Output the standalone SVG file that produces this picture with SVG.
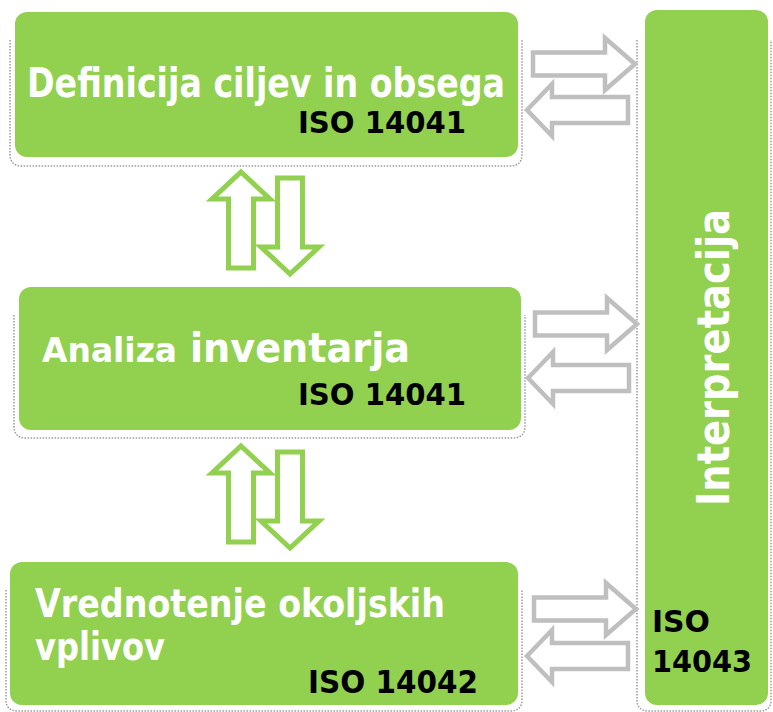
<svg xmlns="http://www.w3.org/2000/svg" xmlns:xlink="http://www.w3.org/1999/xlink" width="773" height="712" viewBox="0 0 773 712">
<style>
.box{fill:#92d050}
.frame{fill:none;stroke:#9a9a9a;stroke-width:1.5;stroke-dasharray:1.5 1.5}
.garrow{fill:#fff;stroke:#92d050;stroke-width:5;stroke-linejoin:miter}
.harrow{fill:#fff;stroke:#bfbfbf;stroke-width:4.5;stroke-linejoin:miter}
.lbl{font-family:"DejaVu Sans Condensed","DejaVu Sans","Liberation Sans",sans-serif;font-weight:bold;fill:#fff}
.iso{font-family:"DejaVu Sans Condensed","DejaVu Sans","Liberation Sans",sans-serif;font-weight:bold;fill:#000}
.isow{font-family:"DejaVu Sans","Liberation Sans",sans-serif;font-weight:bold;fill:#000}
</style>
<defs>
<path id="rarr" d="M-102,-11.5 L-30,-11.5 L-30,-26 L0,0 L-30,26 L-30,11.5 L-102,11.5 Z"/>
<path id="larr" d="M0,0 L25,-26 L25,-13 L101,-13 L101,13 L25,13 L25,26 Z"/>
<path id="uarr" d="M0,0 L29,27 L12.5,27 L12.5,96 L-12.5,96 L-12.5,27 L-29,27 Z"/>
<path id="darr" d="M0,0 L-29,-27 L-12.5,-27 L-12.5,-96 L12.5,-96 L12.5,-27 L29,-27 Z"/>
</defs>

<g id="definicija">
<path class="frame" d="M10,40 V154 Q10,166 22,166 H510 Q522,166 522,154 V40"/>
<rect class="box" x="15" y="12" width="503" height="145" rx="12"/>
<text class="lbl" x="27" y="97" font-size="41" textLength="478" lengthAdjust="spacingAndGlyphs">Definicija ciljev in obsega</text>
<text class="iso" x="298" y="133" font-size="31" textLength="168" lengthAdjust="spacingAndGlyphs">ISO 14041</text>
</g>

<g id="analiza">
<path class="frame" d="M14,315 V426 Q14,438 26,438 H513 Q525,438 525,426 V315"/>
<rect class="box" x="19" y="287" width="502" height="143" rx="12"/>
<text class="lbl" y="362"><tspan x="42" font-size="34" textLength="135" lengthAdjust="spacingAndGlyphs">Analiza</tspan><tspan x="190" font-size="41" textLength="220" lengthAdjust="spacingAndGlyphs">inventarja</tspan></text>
<text class="iso" x="298" y="405" font-size="31" textLength="168" lengthAdjust="spacingAndGlyphs">ISO 14041</text>
</g>

<g id="vrednotenje">
<path class="frame" d="M6,590 V700 Q6,711 18,711 H510 Q522,711 522,700 V590"/>
<rect class="box" x="10" y="562" width="508" height="143" rx="12"/>
<text class="lbl" x="35" y="617" font-size="39" textLength="410" lengthAdjust="spacingAndGlyphs">Vrednotenje okoljskih</text>
<text class="lbl" x="35" y="660" font-size="39" textLength="130" lengthAdjust="spacingAndGlyphs">vplivov</text>
<text class="iso" x="308" y="693" font-size="32" textLength="170" lengthAdjust="spacingAndGlyphs">ISO 14042</text>
</g>

<g id="interpretacija">
<path class="frame" d="M637,40 V700 Q637,711 649,711 H760 Q771,711 771,700 V40"/>
<rect class="box" x="645" y="10" width="123" height="695" rx="12"/>
<text class="lbl" transform="translate(729,506) rotate(-90)" x="0" y="0" font-size="44" font-family="'Liberation Sans',sans-serif" textLength="297" lengthAdjust="spacingAndGlyphs">Interpretacija</text>
<text class="isow" x="652" y="632" font-size="30" textLength="58" lengthAdjust="spacingAndGlyphs">ISO</text>
<text class="isow" x="652" y="672" font-size="30" textLength="100" lengthAdjust="spacingAndGlyphs">14043</text>
</g>

<g id="connectors">
<use xlink:href="#uarr" class="garrow" transform="translate(241,172)"/>
<use xlink:href="#darr" class="garrow" transform="translate(290,274)"/>
<use xlink:href="#uarr" class="garrow" transform="translate(241,446)"/>
<use xlink:href="#darr" class="garrow" transform="translate(290,548)"/>
<use xlink:href="#rarr" class="harrow" transform="translate(635,64)"/>
<use xlink:href="#larr" class="harrow" transform="translate(527,110)"/>
<use xlink:href="#rarr" class="harrow" transform="translate(637,324)"/>
<use xlink:href="#larr" class="harrow" transform="translate(528,378)"/>
<use xlink:href="#rarr" class="harrow" transform="translate(636,609)"/>
<use xlink:href="#larr" class="harrow" transform="translate(527,656)"/>
</g>
</svg>
